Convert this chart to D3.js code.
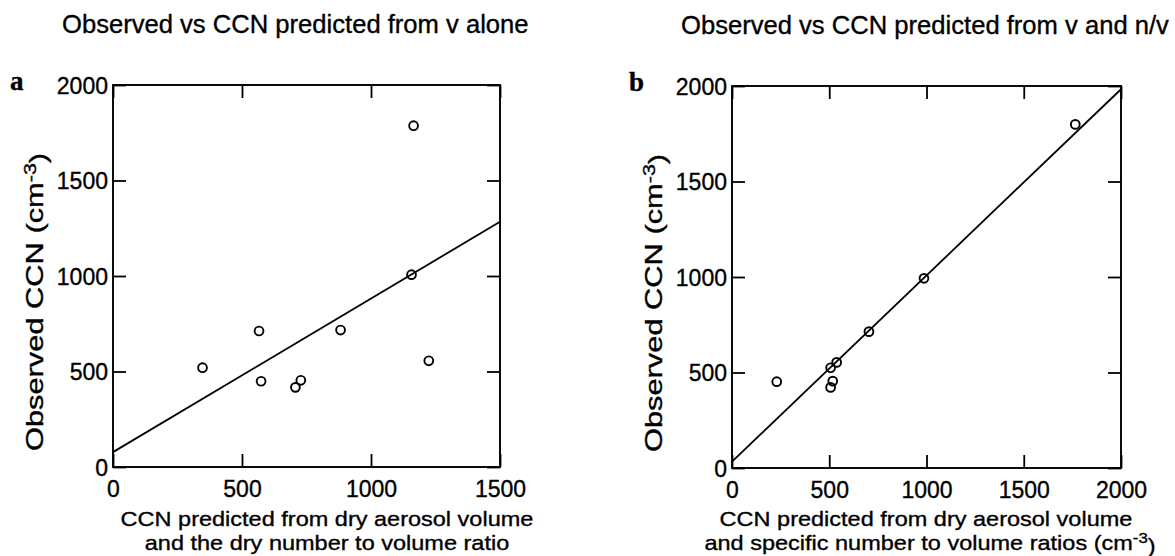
<!DOCTYPE html>
<html>
<head>
<meta charset="utf-8">
<script src="https://cdn.jsdelivr.net/npm/d3@7"></script>
<style>
  html, body { margin: 0; padding: 0; background: #fff; }
  svg { display: block; }
  text { font-family: "Liberation Sans", Arial, Helvetica, sans-serif; fill: #000; stroke: #000; stroke-width: 0.35px; }
</style>
</head>
<body>
<svg id="chart" width="1175" height="556"></svg>
<script>
// ---- data ----
const titleA = "Observed vs CCN predicted from v alone";
const titleB = "Observed vs CCN predicted from v and n/v";
const xTicksA = [0, 500, 1000, 1500];
const xTicksB = [0, 500, 1000, 1500, 2000];
const yTicks = [0, 500, 1000, 1500, 2000];
const predA = [347, 566, 574, 707, 728, 882, 1224, 1157, 1165];
const obsA  = [520, 712, 449, 417, 454, 717, 556, 1007, 1787];
const predB = [230, 507, 538, 518, 507, 704, 987, 1765];
const obsB  = [452, 525, 553, 455, 422, 714, 993, 1799];
const fitAX = [0, 1500];
const fitAY = [78, 1284];
const fitBX = [0, 2000];
const fitBY = [33, 1983];
const xLabelA = ["CCN predicted from dry aerosol volume", "and the dry number to volume ratio"];
const xLabelB1 = "CCN predicted from dry aerosol volume";
const xLabelB2 = "and specific number to volume ratios (cm";
const yLabel = "Observed CCN (cm";
const unitExp = "-3";

const svg = d3.select("#chart");

function panel(opts) {
  const { left, right, top, bottom, xTicks, xs, ys, fx, fy, letter, title } = opts;
  const x = d3.scaleLinear().domain([xTicks[0], xTicks[xTicks.length - 1]]).range([left, right]);
  const y = d3.scaleLinear().domain([yTicks[0], yTicks[yTicks.length - 1]]).range([bottom, top]);
  const g = svg.append("g");
  const tick = 13;

  const fmt = d3.format("d");
  const ax = g.append("g").attr("transform", `translate(0,${bottom})`)
    .call(d3.axisBottom(x).tickValues(xTicks).tickFormat(fmt).tickSizeInner(-tick).tickSizeOuter(0).tickPadding(14));
  const ay = g.append("g").attr("transform", `translate(${left},0)`)
    .call(d3.axisLeft(y).tickValues(yTicks).tickFormat(fmt).tickSizeInner(-tick).tickSizeOuter(0).tickPadding(5));
  const at = g.append("g").attr("transform", `translate(0,${top})`)
    .call(d3.axisTop(x).tickValues(xTicks).tickFormat("").tickSizeInner(-tick).tickSizeOuter(0));
  const ar = g.append("g").attr("transform", `translate(${right},0)`)
    .call(d3.axisRight(y).tickValues(yTicks).tickFormat("").tickSizeInner(-tick).tickSizeOuter(0));
  [ax, ay, at, ar].forEach(a => {
    a.select(".domain").remove();
    a.selectAll("line").attr("stroke", "#000").attr("stroke-width", 1.8);
    a.selectAll("text").style("font-size", "23px").style("font-family", "'Liberation Sans', Arial, sans-serif")
      .attr("fill", "#000").attr("stroke", "#000").attr("stroke-width", 0.4);
  });
  ay.selectAll(".tick text").attr("dy", "0.36em");

  // frame
  g.append("rect").attr("x", left).attr("y", top).attr("width", right - left).attr("height", bottom - top)
    .attr("fill", "none").attr("stroke", "#000").attr("stroke-width", 1.9);

  // regression line
  const lineData = fx.map((v, i) => [v, fy[i]]);
  g.append("path").datum(lineData)
    .attr("d", d3.line().x(d => x(d[0])).y(d => y(d[1])))
    .attr("fill", "none").attr("stroke", "#000").attr("stroke-width", 1.8);

  // points
  g.selectAll("circle.pt").data(xs.map((v, i) => [v, ys[i]])).join("circle")
    .attr("class", "pt")
    .attr("cx", d => x(d[0])).attr("cy", d => y(d[1])).attr("r", 4.4)
    .attr("fill", "none").attr("stroke", "#000").attr("stroke-width", 1.9);

  // panel letter
  g.append("text").attr("x", left - 103).attr("y", top + 5)
    .style("font-family", "'Liberation Serif', 'Times New Roman', serif").style("font-weight", "bold")
    .style("font-size", "27px").attr("stroke-width", 0.8).text(letter);

  // title
  g.append("text").attr("x", left - 51).attr("y", top - 52)
    .style("font-size", "25.6px").text(title);

  // y label (stretched along its reading direction, as in the reference)
  const yl = g.append("text")
    .attr("transform", `translate(${left - 70},${(top + bottom) / 2 + 26}) rotate(-90) scale(1.34,1)`)
    .attr("text-anchor", "middle").style("font-size", "23px");
  yl.append("tspan").text(yLabel);
  yl.append("tspan").attr("dy", "-0.45em").style("font-size", "16px").text(unitExp);
  yl.append("tspan").attr("dy", "0.45em").text(")");
  return { x, y, g };
}

const pa = panel({ left: 113, right: 500, top: 85, bottom: 467, xTicks: xTicksA, xs: predA, ys: obsA,
  fx: fitAX, fy: fitAY, letter: "a", title: titleA });
const pb = panel({ left: 732, right: 1121, top: 86, bottom: 468, xTicks: xTicksB, xs: predB, ys: obsB,
  fx: fitBX, fy: fitBY, letter: "b", title: titleB });

// x labels
function xLabel(g, cx, y, parts) {
  const t = g.append("text").attr("transform", `translate(${cx},${y}) scale(1.12,1)`)
    .attr("text-anchor", "middle").style("font-size", "21px");
  t.append("tspan").text(parts[0]);
  if (parts.length > 1) {
    t.append("tspan").attr("dy", "-0.45em").style("font-size", "15px").text(parts[1]);
    t.append("tspan").attr("dy", "0.45em").text(")");
  }
}
xLabel(pa.g, 327, 526, [xLabelA[0]]);
xLabel(pa.g, 327, 550, [xLabelA[1]]);
xLabel(pb.g, 926, 526, [xLabelB1]);
xLabel(pb.g, 930, 550, [xLabelB2, unitExp]);
</script>
</body>
</html>
